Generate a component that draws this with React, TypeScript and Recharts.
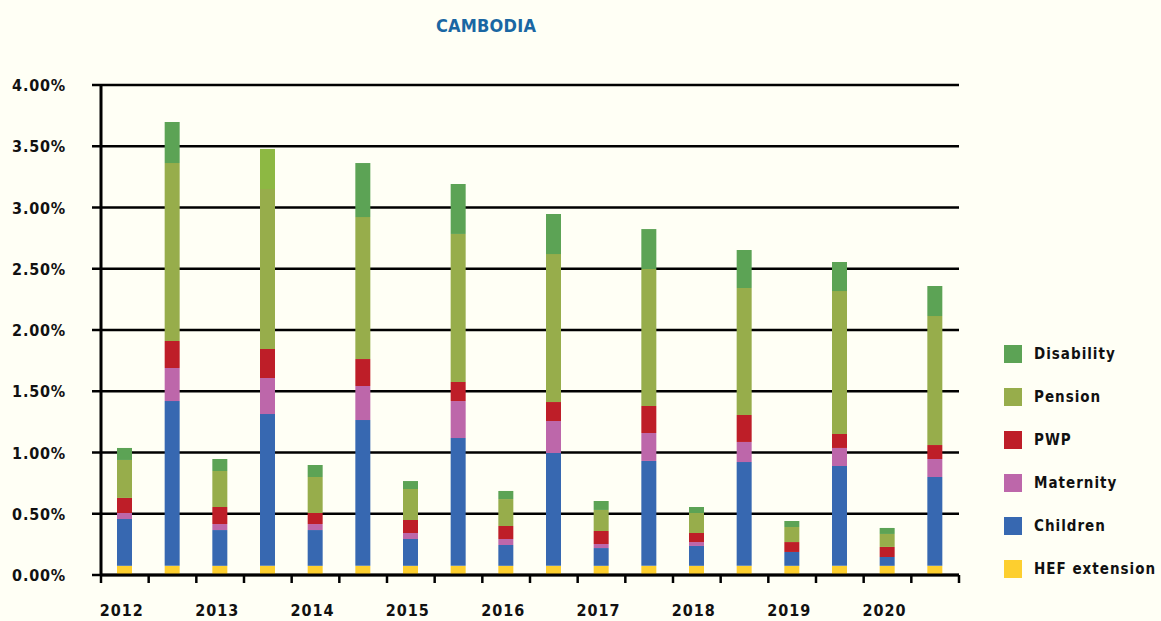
import { Bar, BarChart, CartesianGrid, Cell, XAxis, YAxis } from "recharts";

const yearLabels = ["2012", "2013", "2014", "2015", "2016", "2017", "2018", "2019", "2020"];
const barKeys = yearLabels.flatMap((y) => [`${y}-a`, `${y}-b`]);

const hef = [0.075, 0.075, 0.075, 0.075, 0.075, 0.075, 0.075, 0.075, 0.075, 0.075, 0.075, 0.075, 0.075, 0.075, 0.075, 0.075, 0.075, 0.075];
const children = [0.382, 1.345, 0.292, 1.239, 0.292, 1.19, 0.219, 1.043, 0.17, 0.921, 0.145, 0.856, 0.162, 0.847, 0.113, 0.815, 0.072, 0.725];
const maternity = [0.049, 0.27, 0.049, 0.294, 0.049, 0.278, 0.049, 0.302, 0.049, 0.261, 0.033, 0.228, 0.032, 0.164, 0, 0.147, 0, 0.147];
const pwp = [0.123, 0.22, 0.139, 0.237, 0.09, 0.22, 0.106, 0.156, 0.106, 0.155, 0.106, 0.221, 0.074, 0.22, 0.081, 0.114, 0.082, 0.114];
const pension = [0.31, 1.453, 0.294, 1.306, 0.294, 1.159, 0.253, 1.208, 0.22, 1.208, 0.172, 1.118, 0.163, 1.037, 0.123, 1.167, 0.106, 1.053];
const disability = [0.098, 0.335, 0.098, 0.327, 0.098, 0.441, 0.065, 0.408, 0.066, 0.327, 0.073, 0.326, 0.049, 0.31, 0.049, 0.237, 0.049, 0.245];

const yTicks = [0, 0.5, 1, 1.5, 2, 2.5, 3, 3.5, 4];

const series = [
  { key: "hef", name: "HEF extension", color: "#fdcf2f" },
  { key: "children", name: "Children", color: "#3768b1" },
  { key: "maternity", name: "Maternity", color: "#bd67aa" },
  { key: "pwp", name: "PWP", color: "#be1e28" },
  { key: "pension", name: "Pension", color: "#97ad4b" },
  { key: "disability", name: "Disability", color: "#5ca355" },
];

const data = barKeys.map((k, i) => ({
  key: k,
  hef: hef[i],
  children: children[i],
  maternity: maternity[i],
  pwp: pwp[i],
  pension: pension[i],
  disability: disability[i],
}));

const FONT = '"DejaVu Sans Condensed", "Liberation Sans Narrow", sans-serif';
const W = 1161;
const H = 621;
const LEFT = 101;
const RIGHT = 202;
const PLOT_W = W - LEFT - RIGHT;
const HALF = PLOT_W / barKeys.length / 2;

function XTick(props: any) {
  const { x, y, index } = props;
  const label = index % 2 === 0 ? yearLabels[index / 2] : "";
  return (
    <g>
      <line x1={x - HALF} x2={x - HALF} y1={y} y2={y + 8} stroke="#000" strokeWidth={2.5} />
      {index === barKeys.length - 1 && (
        <line x1={x + HALF} x2={x + HALF} y1={y} y2={y + 8} stroke="#000" strokeWidth={2.5} />
      )}
      {label && (
        <text x={x - 3} y={y + 41} textAnchor="middle" fontFamily={FONT} fontWeight="bold" fontSize={16} letterSpacing={1} fill="#111">
          {label}
        </text>
      )}
    </g>
  );
}

function YTick(props: any) {
  const { x, y, payload } = props;
  return (
    <text x={x} y={y + 6} textAnchor="end" fontFamily={FONT} fontWeight="bold" fontSize={16} letterSpacing={0.8} fill="#111">
      {`${Number(payload.value).toFixed(2)}%`}
    </text>
  );
}

export default function App() {
  return (
    <div style={{ position: "absolute", left: 0, top: 0, width: W, height: H, background: "#fffff5" }}>
      <div
        style={{
          position: "absolute",
          left: 0,
          top: 16,
          width: 972,
          textAlign: "center",
          fontFamily: FONT,
          fontWeight: "bold",
          fontSize: 18,
          lineHeight: "20px",
          letterSpacing: 0.2,
          color: "#1a67a3",
        }}
      >
        CAMBODIA
      </div>
      <BarChart width={W} height={H} data={data} margin={{ top: 85, right: RIGHT, bottom: 0, left: 0 }}>
        <CartesianGrid vertical={false} stroke="#000" strokeWidth={2.5} />
        <XAxis
          dataKey="key"
          height={46}
          interval={0}
          tickSize={0}
          tickMargin={0}
          tickLine={false}
          axisLine={{ stroke: "#000", strokeWidth: 3 }}
          tick={<XTick />}
        />
        <YAxis
          width={LEFT}
          domain={[0, 4]}
          ticks={yTicks}
          interval={0}
          tickSize={9}
          tickMargin={26}
          tickLine={{ stroke: "#000", strokeWidth: 2.5 }}
          axisLine={{ stroke: "#000", strokeWidth: 3 }}
          tick={<YTick />}
        />
        {series.map((s) => (
          <Bar key={s.key} dataKey={s.key} name={s.name} stackId="a" fill={s.color} barSize={15} isAnimationActive={false}>
            {s.key === "disability" &&
              data.map((d, i) => <Cell key={d.key} fill={i === 3 ? "#8db843" : s.color} />)}
          </Bar>
        ))}
      </BarChart>
      <div style={{ position: "absolute", left: 1004, top: 332 }}>
        {[...series].reverse().map((s) => (
          <div key={s.key} style={{ display: "flex", alignItems: "center", height: 43 }}>
            <div style={{ width: 18, height: 18, background: s.color, marginRight: 12, flexShrink: 0 }} />
            <span
              style={{
                fontFamily: FONT,
                fontWeight: "bold",
                fontSize: 15,
                letterSpacing: 1,
                color: "#111",
                whiteSpace: "nowrap",
              }}
            >
              {s.name}
            </span>
          </div>
        ))}
      </div>
    </div>
  );
}
